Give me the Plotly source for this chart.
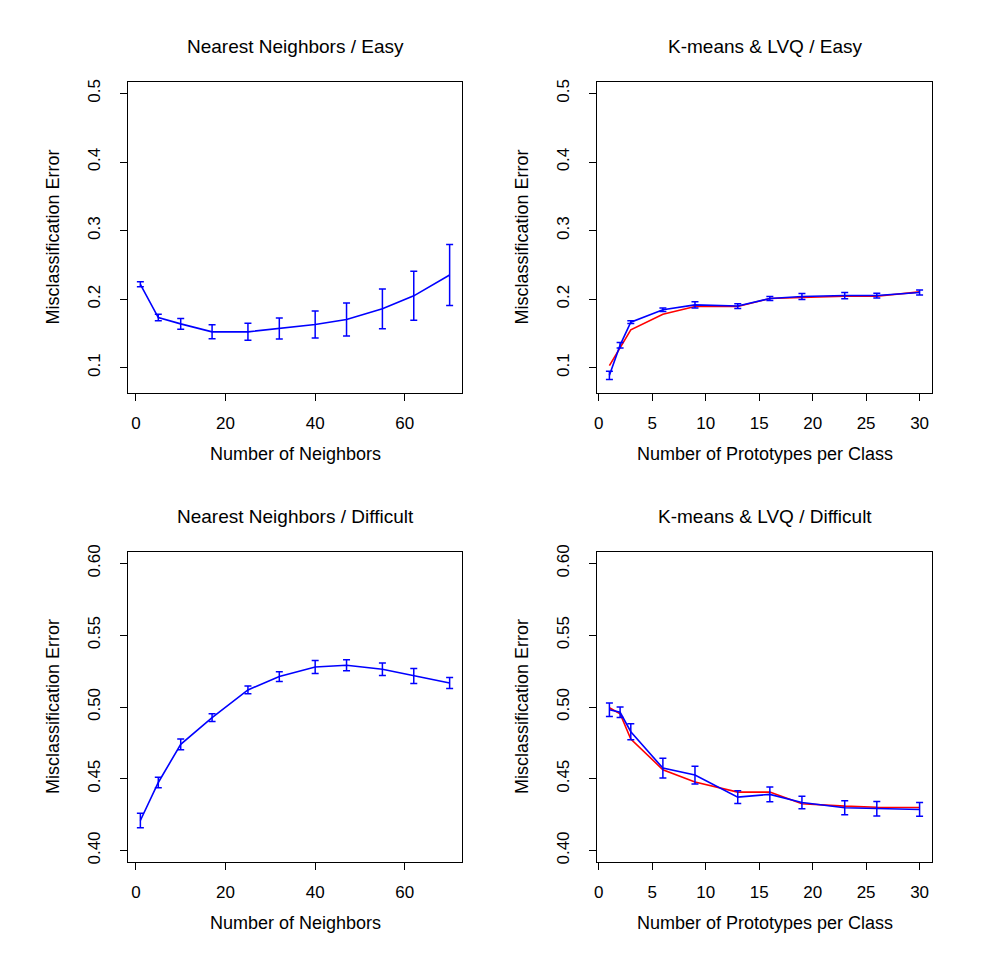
import plotly.graph_objects as go

# ---------------- data ----------------
nn_k = [1, 5, 10, 17, 25, 32, 40, 47, 55, 62, 70]
nn_easy = [0.2218, 0.1733, 0.1640, 0.1524, 0.1524, 0.1573, 0.1631, 0.1704, 0.1860, 0.2049, 0.2354]
nn_easy_se = [0.0035, 0.0046, 0.0078, 0.0102, 0.0124, 0.0153, 0.0197, 0.0240, 0.0290, 0.0357, 0.0444]
nn_diff = [0.4209, 0.4474, 0.4740, 0.4926, 0.5119, 0.5212, 0.5279, 0.5291, 0.5263, 0.5216, 0.5167]
nn_diff_se = [0.0051, 0.0037, 0.0037, 0.0027, 0.0027, 0.0034, 0.0045, 0.0038, 0.0044, 0.0052, 0.0038]

proto = [1, 2, 3, 6, 9, 13, 16, 19, 23, 26, 30]
km_easy = [0.1030, 0.1296, 0.1553, 0.1780, 0.1893, 0.1893, 0.2010, 0.2024, 0.2044, 0.2044, 0.2107]
lvq_easy = [0.0890, 0.1330, 0.1665, 0.1845, 0.1917, 0.1900, 0.2010, 0.2040, 0.2053, 0.2053, 0.2097]
lvq_easy_se = [0.0060, 0.0040, 0.0020, 0.0025, 0.0045, 0.0035, 0.0030, 0.0045, 0.0045, 0.0035, 0.0037]
km_diff = [0.4995, 0.4953, 0.4777, 0.4563, 0.4477, 0.4407, 0.4407, 0.4326, 0.4309, 0.4302, 0.4300]
lvq_diff = [0.4981, 0.4963, 0.4828, 0.4574, 0.4526, 0.4372, 0.4391, 0.4335, 0.4298, 0.4291, 0.4286]
lvq_diff_se = [0.0047, 0.0037, 0.0056, 0.0069, 0.0062, 0.0044, 0.0051, 0.0044, 0.0049, 0.0051, 0.0048]

titles = ["Nearest Neighbors / Easy", "K-means & LVQ / Easy",
          "Nearest Neighbors / Difficult", "K-means & LVQ / Difficult"]
xtitles = ["Number of Neighbors", "Number of Prototypes per Class",
           "Number of Neighbors", "Number of Prototypes per Class"]
ytitle = "Misclassification Error"
nn_xticks = [0, 20, 40, 60]
proto_xticks = [0, 5, 10, 15, 20, 25, 30]
easy_yticks = [0.1, 0.2, 0.3, 0.4, 0.5]
diff_yticks = [0.40, 0.45, 0.50, 0.55, 0.60]
diff_yticktext = ["0.40", "0.45", "0.50", "0.55", "0.60"]

# ---------------- layout geometry (pixels) ----------------
W, H = 982, 962
FONT = "Liberation Sans, Arial, sans-serif"
BLUE = "#0000FF"
RED = "#FF0000"

boxes = {  # (left, right, top, bottom) in px
    1: (128, 462, 82, 393),
    2: (597, 932, 82, 393),
    3: (128, 462, 552, 862),
    4: (597, 932, 552, 862),
}

fig = go.Figure()


def ax(n):
    return "" if n == 1 else str(n)


def add_err(n, x, y, se, color):
    fig.add_trace(go.Scatter(
        x=x, y=y, mode="lines",
        line=dict(color=color, width=1.6),
        error_y=dict(type="data", array=se, visible=True, color=color,
                     thickness=1.5, width=3.5),
        xaxis="x" + ax(n), yaxis="y" + ax(n), showlegend=False,
        hoverinfo="x+y"))


def add_line(n, x, y, color):
    fig.add_trace(go.Scatter(
        x=x, y=y, mode="lines", line=dict(color=color, width=1.6),
        xaxis="x" + ax(n), yaxis="y" + ax(n), showlegend=False))


add_err(1, nn_k, nn_easy, nn_easy_se, BLUE)
add_line(2, proto, km_easy, RED)
add_err(2, proto, lvq_easy, lvq_easy_se, BLUE)
add_err(3, nn_k, nn_diff, nn_diff_se, BLUE)
add_line(4, proto, km_diff, RED)
add_err(4, proto, lvq_diff, lvq_diff_se, BLUE)

layout = dict(
    width=W, height=H, margin=dict(l=0, r=0, t=0, b=0, autoexpand=False),
    paper_bgcolor="white", plot_bgcolor="white", showlegend=False,
    font=dict(family=FONT, color="black", size=17),
)

annotations = []
for n in range(1, 5):
    L, R, T, B = boxes[n]
    is_nn = n in (1, 3)
    is_easy = n in (1, 2)
    xa = dict(
        domain=[L / W, R / W],
        range=[-1.76, 72.76] if is_nn else [-0.16, 31.16],
        tickmode="array",
        tickvals=nn_xticks if is_nn else proto_xticks,
        ticks="outside", ticklen=7, tickwidth=1, tickcolor="black",
        showline=True, mirror=True, linecolor="black", linewidth=1,
        showgrid=False, zeroline=False, automargin=False,
        tickfont=dict(family=FONT, size=17, color="black"),
        ticklabelstandoff=8,
        anchor="y" + ax(n),
    )
    ya = dict(
        domain=[1 - B / H, 1 - T / H],
        range=[0.0632, 0.5168] if is_easy else [0.392, 0.608],
        tickmode="array",
        tickvals=easy_yticks if is_easy else diff_yticks,
        ticktext=[str(v) for v in easy_yticks] if is_easy else diff_yticktext,
        tickangle=-90,
        ticks="outside", ticklen=7, tickwidth=1, tickcolor="black",
        showline=True, mirror=True, linecolor="black", linewidth=1,
        showgrid=False, zeroline=False, automargin=False,
        tickfont=dict(family=FONT, size=17, color="black"),
        ticklabelstandoff=13,
        anchor="x" + ax(n),
    )
    layout["xaxis" + ax(n)] = xa
    layout["yaxis" + ax(n)] = ya

    cx = (L + R) / 2
    # title
    annotations.append(dict(
        text=titles[n - 1], x=cx / W, y=1 - (T - 36) / H,
        xref="paper", yref="paper", showarrow=False,
        xanchor="center", yanchor="middle",
        font=dict(family=FONT, size=19, color="black")))
    # x title
    annotations.append(dict(
        text=xtitles[n - 1], x=cx / W, y=1 - (B + 61) / H,
        xref="paper", yref="paper", showarrow=False,
        xanchor="center", yanchor="middle",
        font=dict(family=FONT, size=18, color="black")))
    # y title
    annotations.append(dict(
        text=ytitle, x=(L - 75) / W, y=1 - ((T + B) / 2) / H,
        xref="paper", yref="paper", showarrow=False, textangle=-90,
        xanchor="center", yanchor="middle",
        font=dict(family=FONT, size=18, color="black")))

layout["annotations"] = annotations
fig.update_layout(**layout)
fig.write_html("out.html")
